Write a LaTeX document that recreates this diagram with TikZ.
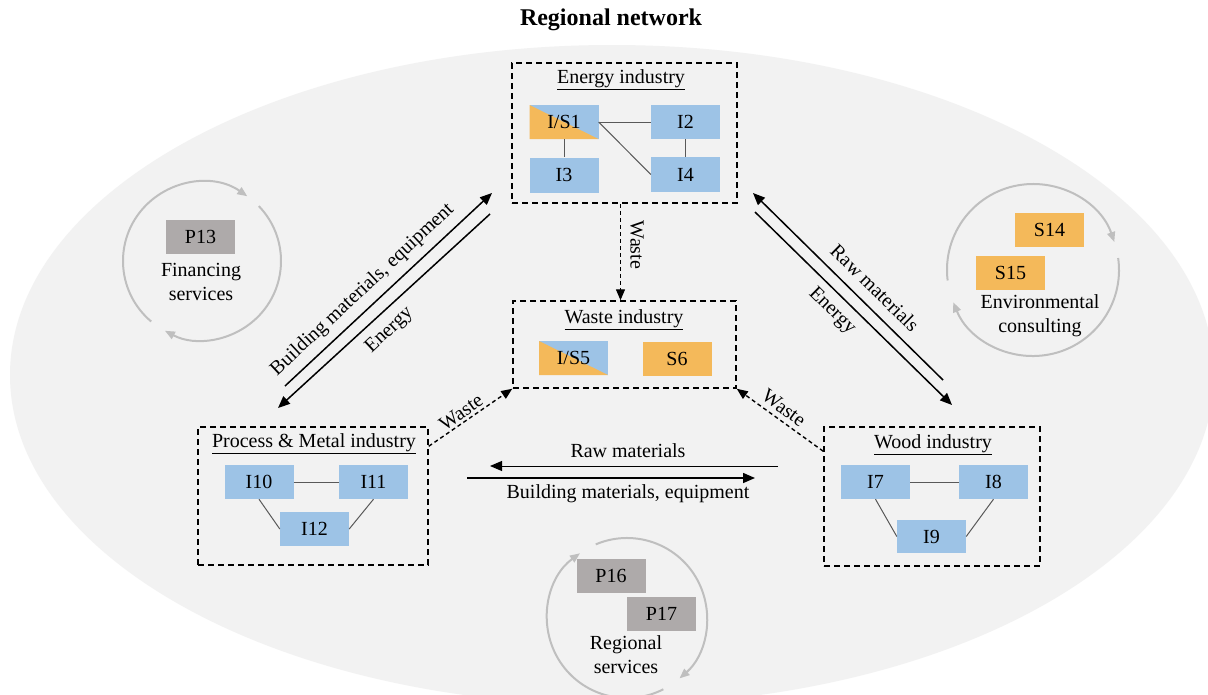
\documentclass[tikz,border=0pt]{standalone}
\usepackage{fontspec}
\setmainfont{Liberation Serif}
\usetikzlibrary{arrows.meta,calc}
\definecolor{bgell}{HTML}{F2F2F2}
\definecolor{iblue}{HTML}{9DC3E6}
\definecolor{sorange}{HTML}{F4B95A}
\definecolor{pgray}{HTML}{AEAAAA}
\definecolor{cycgray}{HTML}{BFBFBF}
\definecolor{linkgray}{HTML}{595959}
\begin{document}
\begin{tikzpicture}[x=1pt,y=1pt,
 every node/.style={font=\fontsize{20}{24}\selectfont, inner sep=0pt},
 unit/.style={minimum width=69pt, minimum height=34pt},
 ibox/.style={unit, fill=iblue},
 sbox/.style={unit, fill=sorange},
 pbox/.style={unit, fill=pgray},
 isbox/.style={unit, fill=iblue, path picture={\fill[sorange] (path picture bounding box.north west) -- (path picture bounding box.south east) -- (path picture bounding box.south west) -- cycle;}},
 group/.style={draw, line width=1.5pt, dash pattern=on 6pt off 4pt},
 link/.style={draw=linkgray, line width=1pt},
 flow/.style={line width=1.5pt, -{Triangle[length=12pt,width=10pt]}},
 wflow/.style={line width=1.4pt, dash pattern=on 4pt off 3pt, -{Triangle[length=11pt,width=9pt]}},
 cyc/.style={draw=cycgray, line width=2pt, -{Triangle[length=10pt,width=8pt]}},
]
\useasboundingbox (0,0) rectangle (1208,-694);
\clip (0,0) rectangle (1208,-694);
\fill[white] (0,0) rectangle (1208,-694);
\fill[bgell] (612,-375) ellipse [x radius=602, y radius=330];

% title
\node[font=\fontsize{24}{28}\selectfont\bfseries] (title) at (611,-20) {Regional network};

% group boxes
\node[group, minimum width=225pt, minimum height=140pt] (energy) at (624.5,-133) {};
\node[group, minimum width=223pt, minimum height=87pt] (waste) at (624.5,-344.5) {};
\node[group, minimum width=230pt, minimum height=138pt] (process) at (313,-496) {};
\node[group, minimum width=216pt, minimum height=139pt] (wood) at (932,-496.5) {};

\node (energyT) at (621,-80) {\underline{Energy industry}};
\node (wasteT) at (624,-320) {\underline{Waste industry}};
\node (processT) at (314,-444) {\underline{Process \& Metal industry}};
\node (woodT) at (933,-445) {\underline{Wood industry}};

% energy industry
\node[isbox] (IS1) at (564,-122) {I/S1};
\node[ibox] (I2) at (685.5,-122) {I2};
\node[ibox, minimum height=35pt] (I3) at (564,-175) {I3};
\node[ibox, minimum height=35pt] (I4) at (685.5,-174.5) {I4};
\draw[link] (IS1.east) -- (I2.west);
\draw[link] (IS1.east) -- (I4.west);
\draw[link] (IS1.south) -- (I3.north);
\draw[link] (I2.south) -- (I4.north);

% waste industry
\node[isbox] (IS5) at (573.5,-358) {I/S5};
\node[sbox] (S6) at (677,-358.5) {S6};

% process & metal
\node[ibox] (I10) at (259,-482) {I10};
\node[ibox] (I11) at (373.5,-482) {I11};
\node[ibox] (I12) at (314.5,-529) {I12};
\draw[link] (I10.east) -- (I11.west);
\draw[link] (I10.south) -- (I12.west);
\draw[link] (I11.south) -- (I12.east);

% wood
\node[ibox] (I7) at (875.5,-482) {I7};
\node[ibox] (I8) at (993.5,-482) {I8};
\node[ibox, minimum height=33pt] (I9) at (931.5,-536.5) {I9};
\draw[link] (I7.east) -- (I8.west);
\draw[link] (I7.south) -- (I9.west);
\draw[link] (I8.south) -- (I9.east);

% waste flows
\draw[wflow] ([xshift=-4pt]energy.south) -- ([xshift=-4pt]waste.north);
\node[rotate=-90] (wl1) at (637,-245) {Waste};
\draw[wflow] ([yshift=-20pt]process.north east) -- (waste.south west);
\node[rotate=35] (wl2) at (461,-412) {Waste};
\draw[wflow] ([yshift=-25pt]wood.north west) -- (waste.south east);
\node[rotate=-36] (wl3) at (784,-408) {Waste};

% energy <-> process
\coordinate (lA1) at (285,-386);
\coordinate (lA2) at (492,-193);
\coordinate (lB1) at (490,-214);
\coordinate (lB2) at (278,-408);
\draw[flow] (lA1) -- (lA2);
\draw[flow] (lB1) -- (lB2);
\node[rotate=43] (lblA) at (362.5,-290) {Building materials, equipment};
\node[rotate=43] (lblB) at (389.5,-330.5) {Energy};

% energy <-> wood
\coordinate (rA1) at (943,-380);
\coordinate (rA2) at (753,-193);
\coordinate (rB1) at (755,-212);
\coordinate (rB2) at (952,-405);
\draw[flow] (rA1) -- (rA2);
\draw[flow] (rB1) -- (rB2);
\node[rotate=-44.5] (rblA) at (875,-288) {Raw materials};
\node[rotate=-44.5] (rblB) at (832,-311) {Energy};

% wood <-> process
\coordinate (hA1) at (778,-466);
\coordinate (hA2) at (490,-466);
\coordinate (hB1) at (467,-478);
\coordinate (hB2) at (755,-478);
\draw[flow, line width=1pt] (hA1) -- (hA2);
\draw[flow] (hB1) -- (hB2);
\node (hblA) at (628,-451) {Raw materials};
\node (hblB) at (628,-494) {Building materials, equipment};

% financing services
\coordinate (fc) at (202,-261);
\draw[cyc] ($(fc)+(230:79pt)$) arc[start angle=230, end angle=55, radius=79pt];
\draw[cyc] ($(fc)+(44:79pt)$) arc[start angle=44, end angle=-118, radius=79pt];
\node[pbox] (P13) at (200.5,-237) {P13};
\node[align=center] (finT) at (201,-282) {Financing\\services};

% environmental consulting
\coordinate (ec) at (1033,-270);
\draw[cyc] ($(ec)+(187:86pt)$) arc[start angle=187, end angle=19, radius=86pt];
\draw[cyc] ($(ec)+(8:86pt)$) arc[start angle=8, end angle=-158, radius=86pt];
\node[sbox] (S14) at (1049.5,-230) {S14};
\node[sbox] (S15) at (1010.5,-272.5) {S15};
\node[align=center] (envT) at (1040,-316) {Environmental\\consulting};

% regional services
\coordinate (rc) at (627,-618);
\draw[cyc] ($(rc)+(113:80pt)$) arc[start angle=113, end angle=-49, radius=80pt];
\draw[cyc] ($(rc)+(-63:80pt)$) arc[start angle=-63, end angle=-234, radius=80pt];
\node[pbox] (P16) at (611,-576) {P16};
\node[pbox] (P17) at (661.5,-614) {P17};
\node[align=center] (regT) at (626,-655) {Regional\\services};
\end{tikzpicture}
\end{document}
